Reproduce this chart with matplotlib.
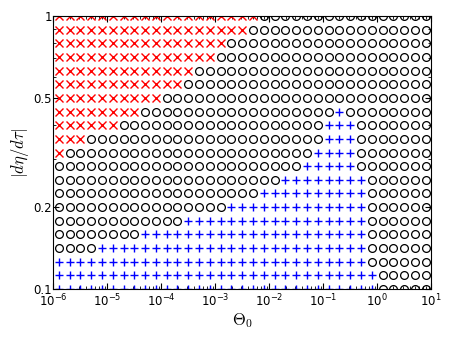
import matplotlib
matplotlib.use("Agg")
import matplotlib.pyplot as plt
import numpy as np
from matplotlib.ticker import NullFormatter, FixedLocator

plt.rcParams['mathtext.fontset'] = 'cm'

# log10 of Theta_0 for each column (bin centres, 0.2 decade apart)
log_theta = [-5.9, -5.7, -5.5, -5.3, -5.1, -4.9, -4.7, -4.5, -4.3, -4.1,
             -3.9, -3.7, -3.5, -3.3, -3.1, -2.9, -2.7, -2.5, -2.3, -2.1,
             -1.9, -1.7, -1.5, -1.3, -1.1, -0.9, -0.7, -0.5, -0.3, -0.1,
             0.1, 0.3, 0.5, 0.7, 0.9]
# log10 of |d eta / d tau| for each row, top to bottom
log_deta = [0.0, -0.05, -0.1, -0.15, -0.2, -0.25, -0.3, -0.35, -0.4, -0.45,
            -0.5, -0.55, -0.6, -0.65, -0.7, -0.75, -0.8, -0.85, -0.9, -0.95, -1.0]

# outcome of each cell, rows top to bottom: x = red cross, o = circle, + = blue plus
outcome = [
    "xxxxxxxxxxxxxxxxxxxoooooooooooooooo",
    "xxxxxxxxxxxxxxxxxxooooooooooooooooo",
    "xxxxxxxxxxxxxxxxooooooooooooooooooo",
    "xxxxxxxxxxxxxxxoooooooooooooooooooo",
    "xxxxxxxxxxxxxoooooooooooooooooooooo",
    "xxxxxxxxxxxxooooooooooooooooooooooo",
    "xxxxxxxxxxooooooooooooooooooooooooo",
    "xxxxxxxxoooooooooooooooooo+oooooooo",
    "xxxxxxooooooooooooooooooo+++ooooooo",
    "xxxoooooooooooooooooooooo+++ooooooo",
    "xooooooooooooooooooooooo++++ooooooo",
    "ooooooooooooooooooooooo+++++ooooooo",
    "ooooooooooooooooooooo++++++++oooooo",
    "ooooooooooooooooooo++++++++++oooooo",
    "oooooooooooooooo+++++++++++++oooooo",
    "oooooooooooo+++++++++++++++++oooooo",
    "oooooooo+++++++++++++++++++++oooooo",
    "oooo+++++++++++++++++++++++++oooooo",
    "+++++++++++++++++++++++++++++oooooo",
    "++++++++++++++++++++++++++++++ooooo",
    "++++++++++++++++++++++++++++++ooooo",
]

styles = {
    'x': dict(marker='x', color='#ff0000', markersize=6.2, markeredgewidth=1.0),
    'o': dict(marker='o', color='black', markerfacecolor='none', markersize=5.6, markeredgewidth=0.9),
    '+': dict(marker='+', color='#0000ff', markersize=6.2, markeredgewidth=1.0),
}

fig = plt.figure(figsize=(4.52, 3.39), dpi=100)
ax = fig.add_axes([0.118, 0.1475, 0.836, 0.805])

for kind in ['x', 'o', '+']:
    xs, ys = [], []
    for r, row in enumerate(outcome):
        for c, ch in enumerate(row):
            if ch == kind:
                xs.append(10 ** log_theta[c])
                ys.append(10 ** log_deta[r])
    ax.plot(xs, ys, linestyle='none', **styles[kind])

ax.set_xscale('log')
ax.set_yscale('log')
ax.set_xlim(1e-6, 1e1)
ax.set_ylim(0.1, 1)

ax.yaxis.set_major_locator(FixedLocator([0.1, 0.2, 0.5, 1]))
ax.set_yticklabels(['0.1', '0.2', '0.5', '1'])
ax.yaxis.set_minor_formatter(NullFormatter())

ax.tick_params(which='both', direction='in', top=True, right=True, labelsize=8.5)
ax.tick_params(which='major', length=4, width=0.8)
ax.tick_params(which='minor', length=2, width=0.6)
ax.tick_params(axis='x', pad=3)
ax.tick_params(axis='y', pad=1)

ax.set_xlabel(r'$\Theta_0$', fontsize=12, labelpad=1)
ax.set_ylabel(r'$|d\eta/d\tau|$', fontsize=12, labelpad=2)

fig.savefig('out.png', dpi=100)
